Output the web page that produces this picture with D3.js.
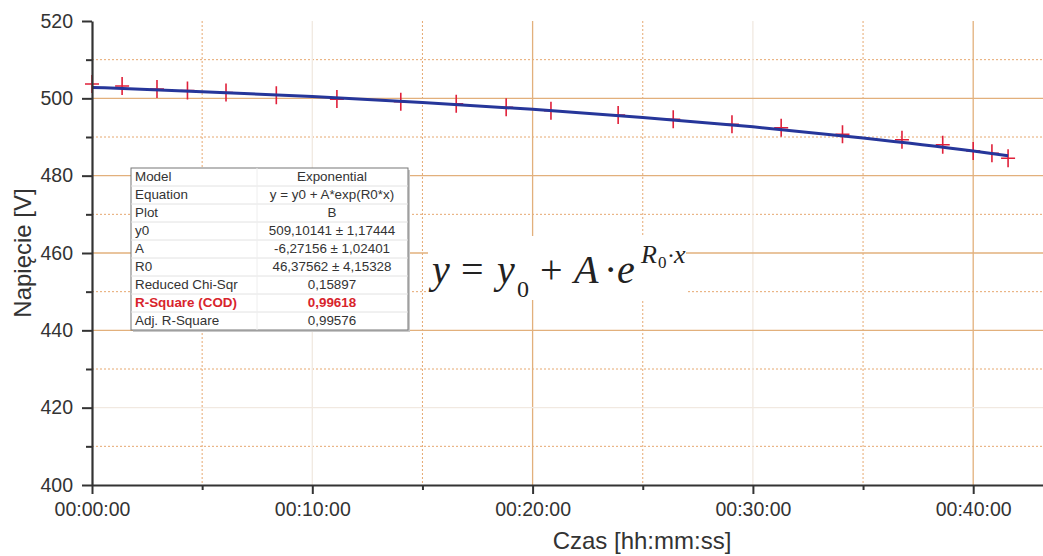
<!DOCTYPE html>
<html>
<head>
<meta charset="utf-8">
<script src="https://cdn.jsdelivr.net/npm/d3@7"></script>
<style>
  body { margin: 0; background: #fff; }
  svg { display: block; font-family: "Liberation Sans", Arial, sans-serif; }
</style>
</head>
<body>
<svg id="chart" width="1043" height="556"></svg>
<script>
// measured points (time in seconds, voltage in V)
const timeSec = [0, 82, 177, 260, 365, 502, 667, 841, 992, 1128, 1250, 1433, 1583, 1743, 1877, 2044, 2206, 2317, 2400, 2451, 2495]
const voltage = [503.7, 503.2, 502.4, 502.0, 501.5, 500.8, 499.8, 499.1, 498.6, 497.7, 496.8, 495.7, 494.6, 493.3, 492.4, 490.7, 489.3, 488.0, 486.4, 485.8, 484.5]

// fitted curve
const fitTimeSec = [0, 300, 600, 900, 1200, 1500, 1800, 2100, 2400, 2495]
const fitVoltage = [502.83, 501.73, 500.45, 498.93, 497.16, 495.07, 492.62, 489.74, 486.36, 485.15]

const xMajorTicks = [0, 600, 1200, 1800, 2400]
const xMinorTicks = [300, 900, 1500, 2100]
const yMajorTicks = [400, 420, 440, 460, 480, 500, 520]
const yMinorTicks = [410, 430, 450, 470, 490, 510]
// majors drawn faint in the scan
const faintX = [600, 1800]
const faintY = [420]

const tableLabels = ['Model', 'Equation', 'Plot', 'y0', 'A', 'R0', 'Reduced Chi-Sqr', 'R-Square (COD)', 'Adj. R-Square']
const tableValues = ['Exponential', 'y = y0 + A*exp(R0*x)', 'B', '509,10141 ± 1,17444', '-6,27156 ± 1,02401', '46,37562 ± 4,15328', '0,15897', '0,99618', '0,99576']

const svg = d3.select('#chart')

const x = d3.scaleLinear().domain([0, 2600]).range([92, 92 + 2600 * 220.3 / 600])
const y = d3.scaleLinear().domain([400, 520]).range([485, 21])

const fmtTime = (s) => {
  const h = Math.floor(s / 3600), m = Math.floor((s % 3600) / 60), sec = s % 60
  return [h, m, sec].map((v) => String(v).padStart(2, '0')).join(':')
}

// grid
const grid = svg.append('g')
grid.selectAll('line.vmin').data(xMinorTicks).join('line')
  .attr('x1', (d) => x(d)).attr('x2', (d) => x(d)).attr('y1', y(520)).attr('y2', y(400))
  .attr('stroke', '#e6a870').attr('stroke-width', 1).attr('stroke-dasharray', '2,2')
grid.selectAll('line.hmin').data(yMinorTicks).join('line')
  .attr('x1', x(0)).attr('x2', 1043).attr('y1', (d) => y(d)).attr('y2', (d) => y(d))
  .attr('stroke', '#e6a870').attr('stroke-width', 1).attr('stroke-dasharray', '2,2')
grid.selectAll('line.vmaj').data(xMajorTicks.filter((d) => d > 0)).join('line')
  .attr('x1', (d) => x(d)).attr('x2', (d) => x(d)).attr('y1', y(520)).attr('y2', y(400))
  .attr('stroke', (d) => faintX.includes(d) ? '#f1e9e1' : '#e2b07c').attr('stroke-width', 1.3)
grid.selectAll('line.hmaj').data(yMajorTicks.filter((d) => d > 400 && d < 520)).join('line')
  .attr('x1', x(0)).attr('x2', 1043).attr('y1', (d) => y(d)).attr('y2', (d) => y(d))
  .attr('stroke', (d) => faintY.includes(d) ? '#f1e9e1' : '#e2b07c').attr('stroke-width', 1.3)

// markers under the line
const pts = timeSec.map((t, i) => ({t, v: voltage[i]}))
const marks = svg.append('g').attr('stroke', '#e0203a').attr('stroke-width', 1.6)
marks.selectAll('path').data(pts).join('path')
  .attr('d', (d) => {
    const cx = x(d.t), cy = y(d.v)
    return `M${cx - 7},${cy}H${cx + 7}M${cx},${cy - 9}V${cy + 9}`
  })

// fit line
const fitPts = fitTimeSec.map((t, i) => ({t, v: fitVoltage[i]}))
svg.append('path')
  .datum(fitPts)
  .attr('fill', 'none')
  .attr('stroke', '#26369a')
  .attr('stroke-width', 3)
  .attr('d', d3.line().x((d) => x(d.t)).y((d) => y(d.v)).curve(d3.curveMonotoneX))

// axes
const xAxis = svg.append('g').attr('transform', `translate(0,${y(400)})`)
  .call(d3.axisBottom(x).tickValues(xMajorTicks).tickFormat(fmtTime).tickSize(9).tickSizeOuter(0).tickPadding(8))
xAxis.select('.domain').attr('stroke', '#333').attr('stroke-width', 2.2)
xAxis.selectAll('.tick line').attr('stroke', '#333').attr('stroke-width', 2)
xAxis.selectAll('text').attr('fill', '#333').style('font-size', '19.5px')
svg.append('g').attr('transform', `translate(0,${y(400)})`)
  .call(d3.axisBottom(x).tickValues(xMinorTicks).tickFormat('').tickSize(5).tickSizeOuter(0))
  .call((g) => g.select('.domain').remove())
  .selectAll('.tick line').attr('stroke', '#333').attr('stroke-width', 2)

const yAxis = svg.append('g').attr('transform', `translate(${x(0)},0)`)
  .call(d3.axisLeft(y).tickValues(yMajorTicks).tickSize(10).tickSizeOuter(0).tickPadding(9))
yAxis.select('.domain').attr('stroke', '#333').attr('stroke-width', 2.2)
yAxis.selectAll('.tick line').attr('stroke', '#333').attr('stroke-width', 2)
yAxis.selectAll('text').attr('fill', '#333').style('font-size', '19.5px')
svg.append('g').attr('transform', `translate(${x(0)},0)`)
  .call(d3.axisLeft(y).tickValues(yMinorTicks).tickFormat('').tickSize(6).tickSizeOuter(0))
  .call((g) => g.select('.domain').remove())
  .selectAll('.tick line').attr('stroke', '#333').attr('stroke-width', 2)

// axis titles
svg.append('text')
  .attr('transform', 'translate(31,253) rotate(-90)')
  .attr('text-anchor', 'middle')
  .attr('fill', '#333')
  .style('font-size', '24px')
  .text('Napięcie [V]')
svg.append('text')
  .attr('x', 642).attr('y', 549)
  .attr('text-anchor', 'middle')
  .attr('fill', '#333')
  .style('font-size', '24px')
  .text('Czas [hh:mm:ss]')

// fit table
const tX = 131, tY = 168, tW = 277, rowH = 18, colX = 257
const table = svg.append('g')
table.append('rect')
  .attr('x', tX + 2).attr('y', tY + 2).attr('width', tW).attr('height', rowH * tableLabels.length)
  .attr('fill', '#c8c8c8')
table.append('rect')
  .attr('x', tX).attr('y', tY).attr('width', tW).attr('height', rowH * tableLabels.length)
  .attr('fill', '#fff').attr('stroke', '#777').attr('stroke-width', 1)
table.selectAll('line.row').data(d3.range(1, tableLabels.length)).join('line')
  .attr('x1', tX).attr('x2', tX + tW)
  .attr('y1', (d) => tY + d * rowH).attr('y2', (d) => tY + d * rowH)
  .attr('stroke', '#e2e2e2')
table.append('line')
  .attr('x1', colX).attr('x2', colX).attr('y1', tY).attr('y2', tY + rowH * tableLabels.length)
  .attr('stroke', '#eeeeee')
table.selectAll('text.lab').data(tableLabels).join('text')
  .attr('x', tX + 4).attr('y', (d, i) => tY + i * rowH + 12.8)
  .attr('fill', (d, i) => i === 7 ? '#d8242c' : '#333')
  .attr('font-weight', (d, i) => i === 7 ? 'bold' : null)
  .style('font-size', '13.4px')
  .text((d) => d)
table.selectAll('text.val').data(tableValues).join('text')
  .attr('x', 332).attr('y', (d, i) => tY + i * rowH + 12.8)
  .attr('text-anchor', 'middle')
  .attr('fill', (d, i) => i === 7 ? '#d8242c' : '#333')
  .attr('font-weight', (d, i) => i === 7 ? 'bold' : null)
  .style('font-size', '13.4px')
  .text((d) => d)

// equation
const eq = svg.append('g').style('font-family', '"Liberation Serif", "Times New Roman", serif').attr('fill', '#222')
eq.append('rect').attr('x', 428).attr('y', 236).attr('width', 258).attr('height', 64).attr('fill', '#fff')
const eqParts = [
  {t: 'y', x: 432, y: 283, s: 40, i: true},
  {t: '=', x: 461, y: 283, s: 40},
  {t: 'y', x: 497, y: 283, s: 40, i: true},
  {t: '0', x: 517, y: 297, s: 24},
  {t: '+', x: 540, y: 283, s: 40},
  {t: 'A', x: 574, y: 283, s: 40, i: true},
  {t: '·', x: 604, y: 283, s: 40},
  {t: 'e', x: 617, y: 283, s: 40, i: true},
  {t: 'R', x: 641, y: 263, s: 26, i: true},
  {t: '0', x: 658, y: 268, s: 17},
  {t: '·', x: 667, y: 263, s: 24},
  {t: 'x', x: 674, y: 263, s: 26, i: true}
]
eq.selectAll('text').data(eqParts).join('text')
  .attr('x', (d) => d.x).attr('y', (d) => d.y)
  .attr('font-style', (d) => d.i ? 'italic' : null)
  .style('font-size', (d) => d.s + 'px')
  .text((d) => d.t)
</script>
</body>
</html>
